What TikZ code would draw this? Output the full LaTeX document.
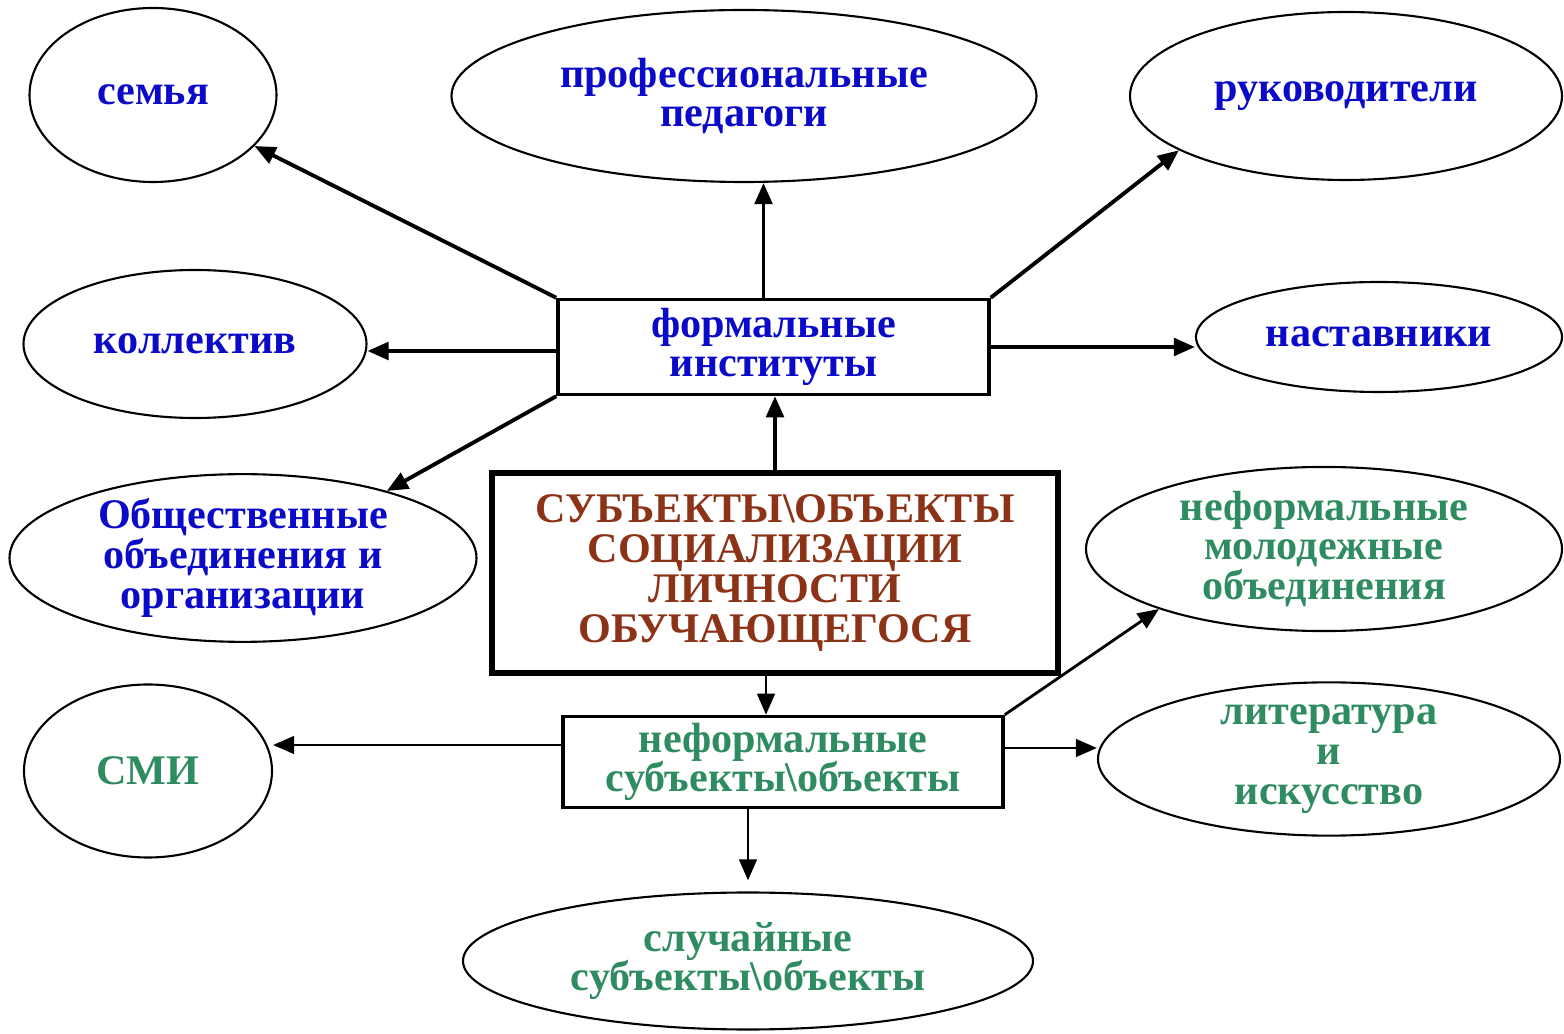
\documentclass[tikz,border=0pt]{standalone}
\usepackage{fontspec}
\setmainfont{Liberation Serif}
\usepackage{tikz}
\usetikzlibrary{positioning, shapes.geometric, arrows.meta}

\definecolor{fblue}{RGB}{10,10,200}
\definecolor{fgreen}{RGB}{46,140,96}
\definecolor{fbrown}{RGB}{140,50,22}

\tikzset{
    lbl/.style={font=\bfseries\fontsize{12}{11.3}\selectfont, align=center, inner sep=0pt},
    oval/.style={lbl, ellipse, draw, line width=0.6pt},
    box/.style={lbl, rectangle, draw, line width=1pt},
    arr/.style={-{Triangle[length=6pt,width=5pt]}, line width=1.1pt},
    arrthin/.style={-{Triangle[length=6pt,width=5pt]}, line width=0.8pt}
}

\begin{document}
\begin{tikzpicture}
    \useasboundingbox (0,0) rectangle (15.64,10.33);

    % центральный блок
    \node[box, line width=1.8pt, minimum width=5.66cm, minimum height=2cm, text=fbrown] (subj) at (7.75,4.60)
        {СУБЪЕКТЫ\textbackslash ОБЪЕКТЫ\\СОЦИАЛИЗАЦИИ\\ЛИЧНОСТИ\\ОБУЧАЮЩЕГОСЯ};

    % формальные и неформальные
    \node[box, minimum width=4.31cm, minimum height=0.95cm, text=fblue] (formal) at (7.735,6.86)
        {формальные\\институты};
    \node[box, minimum width=4.40cm, minimum height=0.91cm, text=fgreen] (informal) at (7.83,2.71)
        {неформальные\\субъекты\textbackslash объекты};

    % формальные институты
    \node[oval, minimum width=2.47cm, minimum height=1.74cm, text=fblue] (family) at (1.53,9.38) {семья};
    \node[oval, minimum width=5.85cm, minimum height=1.72cm, text=fblue] (teachers) at (7.44,9.37) {профессиональные\\педагоги};
    \node[oval, minimum width=4.32cm, minimum height=1.68cm, text=fblue] (heads) at (13.46,9.37) {руководители};
    \node[oval, minimum width=3.43cm, minimum height=1.48cm, text=fblue] (team) at (1.95,6.89) {коллектив};
    \node[oval, minimum width=3.66cm, minimum height=1.10cm, text=fblue] (mentors) at (13.79,6.96) {наставники};
    \node[oval, minimum width=4.67cm, minimum height=1.60cm, text=fblue] (unions) at (2.43,4.75)
        {Общественные\\объединения и\\организации};

    % неформальные субъекты
    \node[oval, minimum width=4.76cm, minimum height=1.62cm, text=fgreen] (youth) at (13.24,4.84)
        {неформальные\\молодежные\\объединения};
    \node[oval, minimum width=2.48cm, minimum height=1.73cm, text=fgreen] (media) at (1.48,2.62) {СМИ};
    \node[oval, minimum width=4.62cm, minimum height=1.52cm, text=fgreen] (arts) at (13.29,2.74)
        {литература\\и\\искусство};
    \node[oval, minimum width=5.70cm, minimum height=1.37cm, text=fgreen] (random) at (7.48,0.72)
        {случайные\\субъекты\textbackslash объекты};

    % стрелки вверх
    \draw[arr] (subj.north) -- (subj.north |- formal.south);
    \draw[arr] ([xshift=-1mm]formal.north) -- ([xshift=-1mm]formal.north |- teachers.south);
    \draw[arr] (formal.north west) -- (family);
    \draw[arr] (formal.north east) -- (heads.198);
    \draw[arr] ([yshift=-0.4mm]formal.west) -- ([yshift=-0.4mm]formal.west -| team.east);
    \draw[arr] (formal.east) -- (formal.east -| mentors.west);
    \draw[arr] (formal.south west) -- (unions.25);

    % стрелки вниз
    \draw[arrthin] ([xshift=-0.9mm]subj.south) -- ([xshift=-0.9mm]subj.south |- informal.north);
    \draw[arrthin] (informal.north east) -- (youth.200);
    \draw[arrthin] ([yshift=1.7mm]informal.west) -- ([yshift=1.7mm]informal.west -| media.east);
    \draw[arrthin] ([yshift=1.4mm]informal.east) -- ([yshift=1.4mm]informal.east -| arts.west);
    \draw[arrthin, shorten >=1.1mm] (informal.south -| random.north) -- (random.north);
\end{tikzpicture}
\end{document}
